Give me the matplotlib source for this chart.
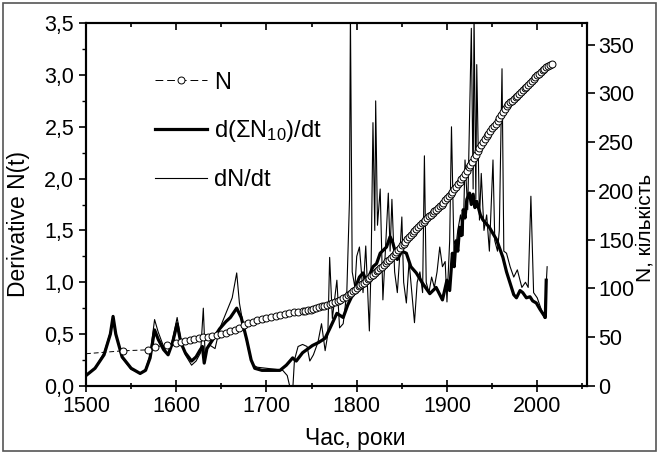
import numpy as np
import matplotlib.pyplot as plt
from matplotlib.ticker import MultipleLocator, FuncFormatter
from matplotlib.patches import Rectangle

plt.rcParams['font.family'] = ['Liberation Sans', 'DejaVu Sans']
plt.rcParams['mathtext.fontset'] = 'custom'
plt.rcParams['mathtext.rm'] = 'Liberation Sans'
plt.rcParams['mathtext.it'] = 'Liberation Sans:italic'

# N, cumulative count (right axis)
n_years = [1500, 1541, 1569, 1577, 1590,
           1600, 1605, 1610, 1615, 1620, 1625, 1630, 1635, 1640, 1645,
           1650, 1655, 1660, 1665, 1670, 1675, 1680, 1685, 1690, 1695,
           1700, 1705, 1710, 1715, 1720, 1725, 1730, 1735, 1740,
           1743, 1746, 1749, 1752, 1755, 1758, 1761, 1764, 1767, 1770,
           1773, 1776, 1779, 1782, 1785, 1788,
           1790, 1792, 1794, 1796, 1798, 1800, 1802, 1804, 1806, 1808,
           1810, 1812, 1814, 1816, 1818, 1820, 1822, 1824, 1826, 1828,
           1830, 1832, 1834, 1836, 1838, 1840, 1842, 1844, 1846, 1848,
           1850, 1852, 1854, 1856, 1858, 1860, 1862, 1864, 1866, 1868,
           1870, 1872, 1874, 1876, 1878, 1880, 1882, 1884, 1886, 1888,
           1890, 1892, 1894, 1896, 1898, 1900, 1902, 1904, 1906, 1908,
           1910, 1912, 1914, 1916, 1918, 1920, 1922, 1924, 1926, 1928,
           1930, 1932, 1934, 1936, 1938, 1940, 1942, 1944, 1946, 1948,
           1950, 1952, 1954, 1956, 1958, 1960, 1962, 1964, 1966, 1968,
           1970, 1972, 1974, 1976, 1978, 1980, 1982, 1984, 1986, 1988,
           1990, 1992, 1994, 1996, 1998, 2000, 2002, 2004, 2006, 2008,
           2010, 2012, 2014, 2016]
n_count = [33, 36, 37, 40, 42,
           44, 45, 46, 47, 48, 49, 50, 50, 51, 52,
           53, 54, 56, 57, 59, 62, 64, 66, 68, 69,
           70, 71, 72, 73, 74, 75, 76, 76, 77,
           77, 78, 78, 79, 80, 81, 82, 82, 83, 84,
           85, 86, 87, 88, 90, 91,
           93, 94, 95, 97, 98, 100, 102, 103, 105, 106,
           108, 110, 111, 113, 114, 116, 118, 119, 121, 122,
           124, 126, 128, 129, 131, 133, 135, 137, 139, 141,
           144, 146, 148, 151, 153, 155, 157, 159, 161, 163,
           165, 167, 168, 170, 172, 174, 175, 177, 179, 180,
           182, 184, 186, 188, 191, 193, 195, 197, 199, 202,
           204, 207, 209, 212, 214, 217, 220, 224, 227, 230,
           234, 237, 241, 244, 247, 250, 253, 256, 258, 261,
           264, 267, 269, 272, 275, 278, 281, 284, 287, 289,
           291, 292, 294, 296, 297, 299, 301, 303, 305, 307,
           309, 311, 313, 315, 317, 319, 320, 322, 324, 325,
           327, 328, 329, 330]

# d(sum N10)/dt, smoothed derivative
sm_years = [1500, 1510, 1520, 1527, 1530, 1533, 1540, 1550, 1560, 1566,
            1571, 1576, 1580, 1586, 1591, 1596, 1601, 1605, 1610, 1617,
            1622, 1626, 1629, 1631, 1634, 1640, 1648, 1655, 1660, 1667,
            1672, 1678, 1683, 1687, 1695, 1705, 1715, 1722, 1729, 1733,
            1740, 1751, 1758, 1765, 1770, 1778, 1785, 1790, 1796, 1803,
            1807, 1811, 1818, 1822, 1826, 1833, 1837, 1840, 1845, 1850,
            1855, 1860, 1866, 1873, 1881, 1888, 1895, 1900, 1903, 1906,
            1908, 1910, 1912, 1914, 1916, 1918, 1920, 1922, 1925, 1927,
            1929, 1931, 1933, 1937, 1940, 1947, 1955, 1962, 1966, 1970,
            1974, 1977, 1981, 1984, 1988, 1992, 1995, 1999, 2003, 2006,
            2009, 2010]
sm_val = [0.10, 0.17, 0.30, 0.50, 0.67, 0.50, 0.28, 0.17, 0.12, 0.15,
          0.27, 0.54, 0.45, 0.35, 0.30, 0.42, 0.60, 0.42, 0.32, 0.24,
          0.28, 0.34, 0.38, 0.22, 0.36, 0.44, 0.55, 0.62, 0.66, 0.75,
          0.66, 0.45, 0.25, 0.17, 0.15, 0.15, 0.15, 0.20, 0.27, 0.24,
          0.32, 0.39, 0.42, 0.46, 0.55, 0.70, 0.66, 0.78, 0.89, 1.05,
          1.09, 1.00, 1.15, 1.18, 1.28, 1.34, 1.44, 1.38, 1.22, 1.30,
          1.28, 1.15, 1.09, 0.99, 0.89, 0.95, 0.83, 1.02, 0.92, 1.28,
          1.15, 1.40, 1.30, 1.53, 1.45, 1.70, 1.62, 1.80, 1.86, 1.75,
          1.85, 1.72, 1.78, 1.65, 1.60, 1.53, 1.41, 1.24, 1.10, 0.99,
          0.88, 0.85, 0.92, 0.90, 0.85, 0.86, 0.82, 0.80, 0.74, 0.70,
          0.66, 1.02]

# dN/dt, raw derivative
raw_years = [1500, 1510, 1520, 1527, 1530, 1533, 1540, 1550, 1560, 1566,
             1571, 1576, 1580, 1586, 1591, 1596, 1601, 1605, 1610, 1617,
             1622, 1627, 1630, 1632, 1636, 1643, 1648, 1655, 1662, 1667,
             1670, 1675, 1680, 1685, 1690, 1700, 1710, 1718, 1723, 1727,
             1729, 1731, 1735, 1740, 1745, 1748, 1752, 1757, 1761, 1765,
             1768, 1770, 1773, 1778, 1781, 1785, 1789, 1792, 1793, 1795,
             1798, 1800, 1803, 1807, 1810, 1814, 1816, 1818, 1820, 1821,
             1823, 1826, 1829, 1832, 1835, 1837, 1839, 1842, 1845, 1848,
             1850, 1852, 1855, 1858, 1861, 1864, 1867, 1870, 1873, 1875,
             1877, 1880, 1883, 1886, 1889, 1892, 1895, 1898, 1900, 1903,
             1905, 1908, 1912, 1915, 1918, 1920, 1923, 1927, 1929, 1930,
             1932, 1933, 1936, 1938, 1941, 1944, 1947, 1951, 1953, 1956,
             1958, 1961, 1963, 1966, 1970, 1974, 1978, 1983, 1987, 1990,
             1993, 1996, 2000, 2004, 2008, 2011]
raw_val = [0.10, 0.17, 0.32, 0.52, 0.68, 0.50, 0.27, 0.16, 0.12, 0.16,
           0.30, 0.64, 0.52, 0.38, 0.30, 0.45, 0.66, 0.45, 0.30, 0.20,
           0.24, 0.32, 0.75, 0.30, 0.40, 0.36, 0.55, 0.70, 0.85, 1.09,
           0.80, 0.55, 0.35, 0.20, 0.18, 0.17, 0.16, 0.15, 0.10, -0.05,
           -0.05, 0.25, 0.38, 0.40, 0.38, 0.24, 0.30, 0.42, 0.60, 0.34,
           0.50, 1.24, 0.65, 1.02, 0.56, 0.60, 0.90, 1.80, 3.60, 1.10,
           0.95, 1.25, 1.34, 0.90, 1.35, 0.53, 1.20, 2.54, 1.50, 2.75,
           1.55, 1.90, 0.83, 1.35, 1.86, 1.30, 1.80, 1.10, 0.90, 1.30,
           1.63, 1.00, 0.80, 1.20, 0.90, 0.61, 1.00, 1.10, 0.90, 2.22,
           1.00, 0.90, 1.05, 0.95, 1.10, 1.34, 1.15, 1.20, 0.81, 1.40,
           2.50, 1.20, 1.50, 1.65, 1.45, 2.18, 1.70, 3.45, 1.90, 3.60,
           1.80, 3.10, 1.60, 2.05, 1.50, 1.65, 1.30, 2.18, 1.40, 1.30,
           1.50, 3.06, 1.30, 1.28, 1.15, 1.05, 1.12, 0.95, 1.00, 0.95,
           1.83, 0.90, 0.85, 0.75, 0.65, 1.15]

fig = plt.figure(figsize=(6.59, 4.54), dpi=100)
fig.patches.append(Rectangle((0.005, 0.006), 0.99, 0.988, transform=fig.transFigure,
                             fill=False, edgecolor='#555555', linewidth=1.2))
ax = fig.add_axes([0.1305, 0.150, 0.760, 0.799])
ax2 = ax.twinx()

ax.plot(raw_years, raw_val, color='black', lw=0.8, zorder=2)
ax.plot(sm_years, sm_val, color='black', lw=2.3, zorder=3)
ax2.plot(n_years, n_count, color='black', lw=0.7, ls=(0, (5, 3)), marker='o',
         ms=5, mfc='white', mec='black', mew=0.7, markevery=range(1, len(n_years)))

ax.set_xlim(1500, 2055)
ax.set_ylim(0, 3.5)
ax2.set_ylim(0, 372)

ax.xaxis.set_major_locator(MultipleLocator(100))
ax.xaxis.set_minor_locator(MultipleLocator(50))
ax.yaxis.set_major_locator(MultipleLocator(0.5))
ax.yaxis.set_minor_locator(MultipleLocator(0.25))
ax.yaxis.set_major_formatter(FuncFormatter(lambda v, p: f'{v:.1f}'.replace('.', ',')))
ax2.yaxis.set_major_locator(MultipleLocator(50))

# bottom ticks cross the spine, top ticks point inward
ax.tick_params(axis='x', which='both', direction='inout', top=False, labelsize=15.5, width=1.2)
ax.tick_params(axis='x', which='major', length=8)
ax.tick_params(axis='x', which='minor', length=5)
ax2.xaxis.set_visible(True)
ax2.tick_params(axis='x', which='both', direction='in', bottom=False, top=True,
                labelbottom=False, labeltop=False, width=1.2)
ax2.tick_params(axis='x', which='major', length=5)
ax2.tick_params(axis='x', which='minor', length=3)
ax.tick_params(axis='y', which='major', direction='out', length=5, width=1.2, labelsize=15.5)
ax.tick_params(axis='y', which='minor', direction='out', length=3, width=1.0)
ax2.tick_params(axis='y', direction='out', length=6, width=1.2, labelsize=15.5, pad=2)

for a in (ax, ax2):
    for s in a.spines.values():
        s.set_linewidth(1.5)

ax.set_xlabel('Час, роки', fontsize=16.5)
ax.xaxis.set_label_coords(0.537, -0.113)
ax.set_ylabel('Derivative N(t)', fontsize=16.5)
ax.yaxis.set_label_coords(-0.112, 0.446)
ax2.set_ylabel('N, кількість', fontsize=15)
ax2.yaxis.set_label_coords(1.098, 0.435)

h_n = plt.Line2D([], [], color='black', lw=0.7, ls=(0, (8, 4)), marker='o', ms=5,
                 mfc='white', mec='black', mew=0.7)
h_sm = plt.Line2D([], [], color='black', lw=2.3)
h_raw = plt.Line2D([], [], color='black', lw=0.8)
ax.legend([h_n, h_sm, h_raw], ['N', r'd(ΣN$_{10}$)/dt', 'dN/dt'], loc='upper left',
          bbox_to_anchor=(0.095, 0.925), frameon=False, fontsize=17, handlelength=2.2,
          handletextpad=0.3, labelspacing=1.05, numpoints=1)

fig.savefig('out.png', dpi=100)
